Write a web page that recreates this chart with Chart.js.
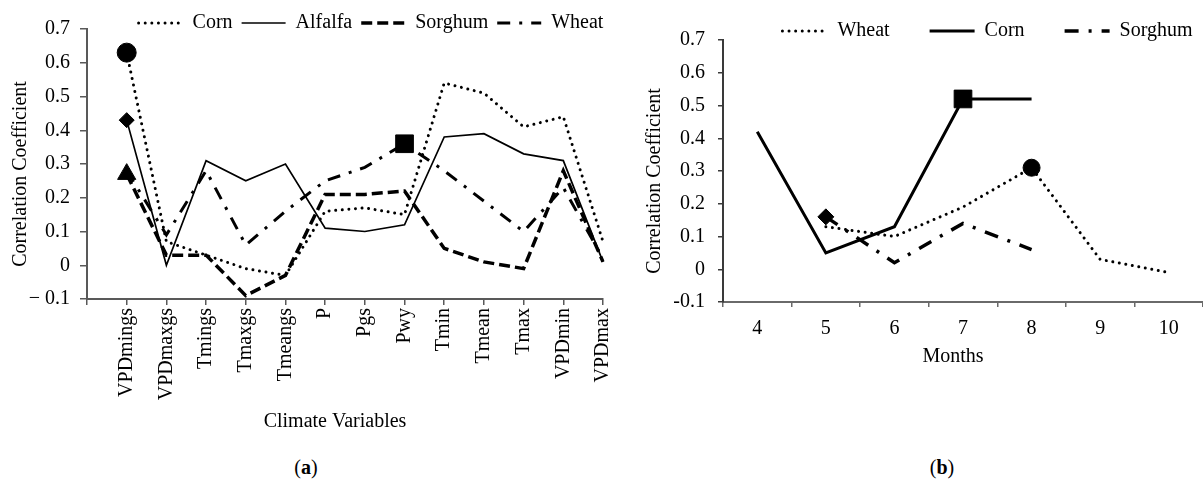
<!DOCTYPE html>
<html>
<head>
<meta charset="utf-8">
<script src="https://cdn.jsdelivr.net/npm/chart.js@4"></script>
<style>
  html, body { margin: 0; padding: 0; background: #fff; }
  #fig { position: relative; width: 1203px; height: 482px; overflow: hidden;
         font-family: "Liberation Serif", "Times New Roman", serif; color: #000; }
  #fig canvas { position: absolute; top: 0; }
  #ca { left: 0; }
  #cb { left: 630px; }
  .cap { position: absolute; top: 455px; font-size: 20px; line-height: 24px; transform: translateX(-50%); }
</style>
</head>
<body>
<div id="fig">
  <canvas id="ca" width="640" height="450"></canvas>
  <canvas id="cb" width="573" height="450"></canvas>
  <div class="cap" style="left:306px">(<b>a</b>)</div>
  <div class="cap" style="left:942px">(<b>b</b>)</div>
</div>
<script>
// ---- Panel (a): correlation with climate variables ----
const climateVars = ['VPDmings', 'VPDmaxgs', 'Tmings', 'Tmaxgs', 'Tmeangs', 'P', 'Pgs', 'Pwy',
                     'Tmin', 'Tmean', 'Tmax', 'VPDmin', 'VPDmax'];
const cornA    = [0.63, 0.07, 0.03, -0.01, -0.03, 0.16, 0.17, 0.15, 0.54, 0.51, 0.41, 0.44, 0.07];
const alfalfaA = [0.43, 0.00, 0.31, 0.25, 0.30, 0.11, 0.10, 0.12, 0.38, 0.39, 0.33, 0.31, 0.01];
const sorghumA = [0.27, 0.03, 0.03, -0.09, -0.03, 0.21, 0.21, 0.22, 0.05, 0.01, -0.01, 0.28, 0.01];
const wheatA   = [0.28, 0.09, 0.28, 0.06, 0.16, 0.25, 0.29, 0.36, 0.28, 0.19, 0.10, 0.23, 0.02];
const yTickLabelsA = ['\u2212 0.1', '0', '0.1', '0.2', '0.3', '0.4', '0.5', '0.6', '0.7'];

// ---- Panel (b): correlation by month ----
const months   = ['4', '5', '6', '7', '8', '9', '10'];
const wheatB   = [null, 0.13, 0.10, 0.19, 0.31, 0.03, -0.01];
const cornB    = [0.42, 0.05, 0.13, 0.52, 0.52, null, null];
const sorghumB = [null, 0.16, 0.02, 0.14, 0.06, null, null];
const yTickLabelsB = ['-0.1', '0', '0.1', '0.2', '0.3', '0.4', '0.5', '0.6', '0.7'];

Chart.defaults.font.family = '"Liberation Serif", "Times New Roman", serif';
Chart.defaults.font.size = 20;
Chart.defaults.color = '#000';

// Moves the legend block sideways / vertically after the layout pass,
// keeping its clip box tall enough for the entries.
const legendNudge = {
  id: 'legendNudge',
  afterLayout(chart, args, opts) {
    const lg = chart.legend;
    if (!lg) return;
    const dx = opts.dx || 0, dy = opts.dy || 0;
    lg.left += dx; lg.right += dx;
    lg.top += dy;
    lg.bottom = lg.top + (opts.boxHeight || 80);
  }
};

// Legend entries drawn as short line samples in each series' own stroke style.
function lineLegendItems(chart) {
  return chart.data.datasets.map((ds, i) => ({
    text: ds.label,
    datasetIndex: i,
    hidden: false,
    fillStyle: 'rgba(0,0,0,0)',
    strokeStyle: ds.borderColor,
    fontColor: '#000',
    lineWidth: ds.borderWidth,
    lineDash: ds.borderDash || [],
    lineCap: ds.borderCapStyle || 'butt',
    lineJoin: 'miter',
    pointStyle: 'line',
    rotation: 0
  }));
}

const dotted  = { borderWidth: 3, borderDash: [0.01, 6.6], borderCapStyle: 'round' };
const solidThin = { borderWidth: 1.7, borderDash: [] };
const solidBold = { borderWidth: 3, borderDash: [] };
const dashed  = { borderWidth: 3.5, borderDash: [11, 5] };
const dashDotA = { borderWidth: 3, borderDash: [13, 9, 3, 9] };
const dashDotB = { borderWidth: 3.5, borderDash: [14, 10, 3, 10] };

function series(labels, label, values, style, marker) {
  return Object.assign({
    label: label,
    data: values,
    borderColor: '#000',
    backgroundColor: '#000',
    fill: false,
    tension: 0,
    pointStyle: marker.shape,
    pointRadius: labels.map(l => (l === marker.at ? marker.r : 0)),
    pointHoverRadius: 0,
    pointBackgroundColor: '#000',
    pointBorderColor: '#000',
    pointBorderWidth: 1
  }, style);
}

// Panel (a) has an empty leading slot on the category axis
const labelsA = [''].concat(climateVars);
const lead = arr => [null].concat(arr);

const axisA = '#595959';

new Chart(document.getElementById('ca'), {
  type: 'line',
  data: {
    labels: labelsA,
    datasets: [
      series(labelsA, 'Corn', lead(cornA), dotted, { shape: 'circle', at: 'VPDmings', r: 9.5 }),
      series(labelsA, 'Alfalfa', lead(alfalfaA), solidThin, { shape: 'rectRot', at: 'VPDmings', r: 7.5 }),
      series(labelsA, 'Sorghum', lead(sorghumA), dashed, { shape: 'triangle', at: 'VPDmings', r: 10.5 }),
      series(labelsA, 'Wheat', lead(wheatA), dashDotA, { shape: 'rect', at: 'Pwy', r: 12.5 })
    ]
  },
  plugins: [legendNudge],
  options: {
    responsive: false,
    animation: false,
    devicePixelRatio: 1,
    events: [],
    layout: { padding: { left: 0, top: 0, right: 37, bottom: 16 } },
    plugins: {
      legend: {
        position: 'top',
        maxHeight: 29,
        labels: { usePointStyle: true, pointStyleWidth: 44, padding: 9, generateLabels: lineLegendItems }
      },
      legendNudge: { dx: 69.5, dy: 4, boxHeight: 40 },
      tooltip: { enabled: false }
    },
    scales: {
      x: {
        type: 'category',
        offset: false,
        afterFit: s => { s.height = 135; },
        grid: { drawOnChartArea: false, tickLength: 6, color: axisA, lineWidth: 1.5 },
        border: { color: axisA, width: 2 },
        ticks: { minRotation: 90, maxRotation: 90, autoSkip: false, padding: 3 },
        title: { display: true, text: 'Climate Variables\u2002\u2002', padding: { top: 0, bottom: 0 } }
      },
      y: {
        min: -0.1,
        max: 0.7,
        afterFit: s => { s.width = 87; },
        ticks: { stepSize: 0.1, padding: 10, callback: (v, i) => yTickLabelsA[i] },
        grid: { drawOnChartArea: false, tickLength: 7, color: axisA, lineWidth: 1.5 },
        border: { color: axisA, width: 2 },
        title: { display: true, text: 'Correlation Coefficient\u2002\u2002', padding: { top: 9, bottom: 0 } }
      }
    }
  }
});

const axisBx = '#6a6a6a';
const axisBy = '#3a3a3a';

new Chart(document.getElementById('cb'), {
  type: 'line',
  data: {
    labels: months,
    datasets: [
      series(months, 'Wheat', wheatB, dotted, { shape: 'circle', at: '8', r: 8.5 }),
      series(months, 'Corn', cornB, solidBold, { shape: 'rect', at: '7', r: 12.5 }),
      series(months, 'Sorghum', sorghumB, dashDotB, { shape: 'rectRot', at: '5', r: 8 })
    ]
  },
  plugins: [legendNudge],
  options: {
    responsive: false,
    animation: false,
    devicePixelRatio: 1,
    events: [],
    layout: { padding: { left: 0, top: 0, right: 0, bottom: 78 } },
    plugins: {
      legend: {
        position: 'top',
        maxHeight: 40,
        labels: { usePointStyle: true, pointStyleWidth: 45, padding: 40, generateLabels: lineLegendItems }
      },
      legendNudge: { dx: 71, dy: -19, boxHeight: 80 },
      tooltip: { enabled: false }
    },
    scales: {
      x: {
        type: 'category',
        offset: true,
        afterFit: s => { s.height = 70; },
        grid: { offset: true, drawOnChartArea: false, tickLength: 5, color: axisBx, lineWidth: 1.5 },
        border: { color: axisBx, width: 2 },
        ticks: { maxRotation: 0, autoSkip: false, padding: 9.5 },
        title: { display: true, text: 'Months\u2002\u2002', padding: { top: 0, bottom: 3 } }
      },
      y: {
        min: -0.1,
        max: 0.7,
        afterFit: s => { s.width = 93; },
        ticks: { stepSize: 0.1, padding: 13, callback: (v, i) => yTickLabelsB[i] },
        grid: { drawOnChartArea: false, tickLength: 5, color: axisBy, lineWidth: 1.5 },
        border: { color: axisBy, width: 2 },
        title: { display: true, text: 'Correlation Coefficient\u2002\u2002', padding: { top: 13, bottom: 0 } }
      }
    }
  }
});
</script>
</body>
</html>
